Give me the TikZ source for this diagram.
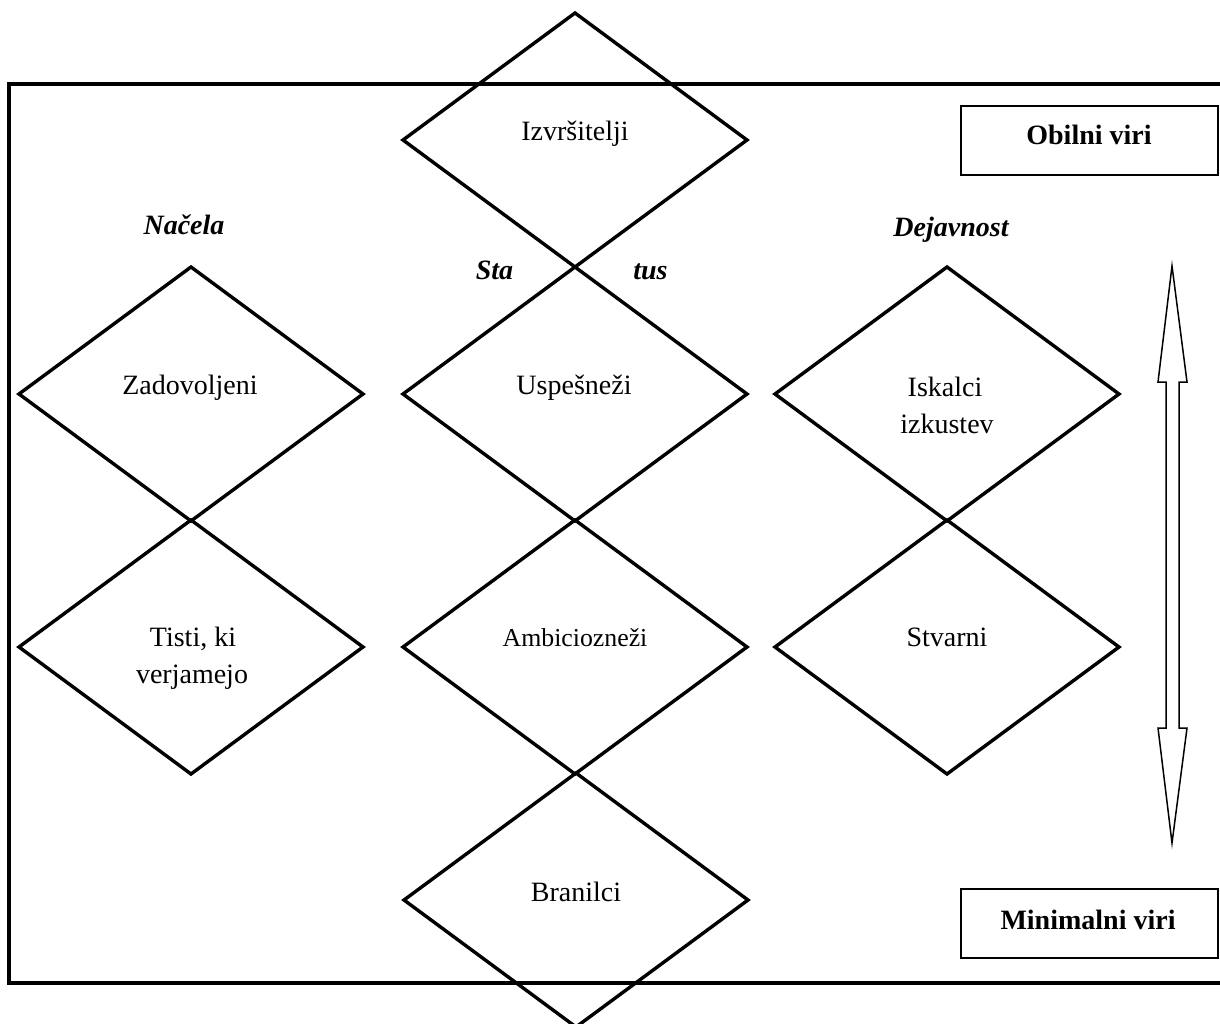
\documentclass[tikz,border=0pt]{standalone}
\usepackage{fontspec}
\setmainfont{Liberation Serif}
\usetikzlibrary{shapes.geometric}
\begin{document}
\begin{tikzpicture}[x=1pt,y=-1pt,
  romb/.style={draw, shape=diamond, line width=3.4pt, minimum width=344pt,
    minimum height=254pt, inner sep=0pt, outer sep=0pt, line join=miter},
  txt/.style={anchor=base, inner sep=0pt, font=\fontsize{28}{34}\selectfont},
  smalltxt/.style={anchor=base, inner sep=0pt, font=\fontsize{25.8}{31}\selectfont},
  head/.style={anchor=base, inner sep=0pt, font=\fontsize{28}{34}\selectfont\bfseries\itshape},
  resbox/.style={draw, line width=1.8pt, minimum width=257pt, minimum height=69pt,
    inner sep=0pt},
  restxt/.style={anchor=base, inner sep=0pt, font=\fontsize{28}{34}\selectfont\bfseries},
  frame/.style={line width=3.6pt, line join=miter},
  hollow/.style={draw, line width=1.5pt, line join=miter, fill=white}
]
\useasboundingbox (0,0) rectangle (1220,1023);

% outer frame (right side runs off the page)
\draw[frame] (1230,84) -- (9,84) -- (9,983) -- (1230,983);

% diamonds
\node[romb] (izv) at (575,140) {};
\node[romb] (usp) at (575,394) {};
\node[romb] (amb) at (575,647) {};
\node[romb] (bra) at (576,900) {};
\node[romb] (zad) at (191,394) {};
\node[romb] (tis) at (191,647) {};
\node[romb] (isk) at (947,394) {};
\node[romb] (stv) at (947,647) {};

% diamond labels
\node[txt] (tizv) at (575,140) {Izvršitelji};
\node[txt] (tusp) at (574,394) {Uspešneži};
\node[smalltxt] (tamb) at (575,646) {Ambiciozneži};
\node[txt] (tbra) at (576,901) {Branilci};
\node[txt] (tzad) at (190,394) {Zadovoljeni};
\node[txt] (ttis1) at (193,646) {Tisti, ki};
\node[txt] (ttis2) at (192,683) {verjamejo};
\node[txt] (tisk1) at (945,396) {Iskalci};
\node[txt] (tisk2) at (947,433) {izkustev};
\node[txt] (tstv) at (947,646) {Stvarni};

% column headings
\node[head] (nac) at (184,234) {Načela};
\node[head] (sta) at (494.5,279) {Sta};
\node[head] (tus) at (650.5,279) {tus};
\node[head] (dej) at (951,236) {Dejavnost};

% resource boxes
\node[resbox] (obb) at (1089.5,140.5) {};
\node[restxt] (obt) at (1089,144) {Obilni viri};
\node[resbox] (mib) at (1089.5,923.5) {};
\node[restxt] (mit) at (1088,929) {Minimalni viri};

% hollow double-headed arrow
\draw[hollow] (1172,266) -- (1187,382) -- (1179,382) -- (1179,728) -- (1187,728)
  -- (1172,843) -- (1158,728) -- (1166,728) -- (1166,382) -- (1158,382) -- cycle;
\end{tikzpicture}
\end{document}
